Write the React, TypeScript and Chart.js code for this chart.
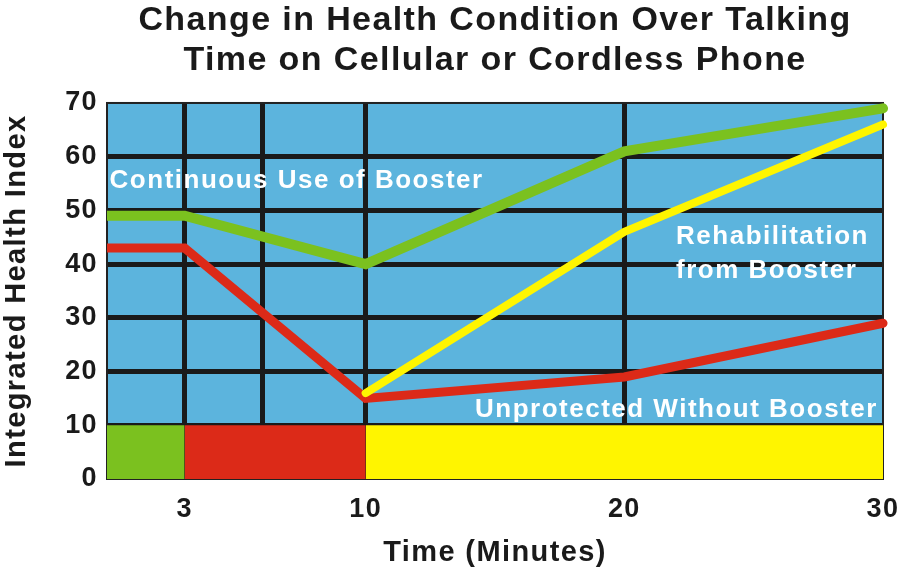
import React, { useEffect, useRef } from "react";
import { Chart, registerables } from "chart.js";

Chart.register(...registerables);

// ---------- data ----------
const titleLines = ["Change in Health Condition Over Talking", "Time on Cellular or Cordless Phone"];
const xAxisTitle = "Time (Minutes)";
const yAxisTitle = "Integrated Health Index";

const xTickLabels = [3, 10, 20, 30];
const xExtraGrid = [6];
const yMin = 0;
const yMax = 70;
const yStep = 10;

// Continuous use of booster (green)
const boosterX = [0, 3, 10, 20, 30];
const boosterY = [49, 49, 40, 61, 69];

// Rehabilitation from booster (yellow)
const rehabX = [10, 20, 30];
const rehabY = [16, 46, 66];

// Unprotected without booster (red)
const unprotectedX = [0, 3, 10, 20, 30];
const unprotectedY = [43, 43, 15, 19, 29];

// Phase bands along the bottom
const phaseStart = [0, 3, 10];
const phaseEnd = [3, 10, 30];
const phaseLevel = [10, 10, 10];

// Annotation texts (anchored in data space)
const noteTexts = ["Continuous Use of Booster", "Rehabilitation", "from Booster", "Unprotected Without Booster"];
const noteX = [0.1, 22, 22, 29.8];
const noteY = [55.6, 45, 38.8, 12.8];
const noteAlign = ["left", "left", "left", "right"];

// ---------- styles ----------
const FONT = "'Liberation Sans', Arial, Helvetica, sans-serif";
const BLUE = "#5CB4DD";
const GREEN = "#7BC11F";
const RED = "#DC2A18";
const YELLOW = "#FFF500";
const INK = "#1A1A1A";
const phaseColors = [GREEN, RED, YELLOW];

const SPACING = "1.4px";

const decorPlugin = {
  id: "decor",
  beforeLayout(chart: any) {
    chart.ctx.letterSpacing = SPACING;
  },
  beforeDraw(chart: any) {
    const { ctx, chartArea } = chart;
    ctx.letterSpacing = SPACING;
    ctx.save();
    ctx.fillStyle = BLUE;
    ctx.fillRect(chartArea.left, chartArea.top, chartArea.right - chartArea.left, chartArea.bottom - chartArea.top);
    ctx.restore();
  },
  beforeDatasetsDraw(chart: any) {
    const { ctx, chartArea } = chart;
    ctx.save();
    ctx.strokeStyle = "#222";
    ctx.lineWidth = 2;
    ctx.strokeRect(chartArea.left, chartArea.top, chartArea.right - chartArea.left, chartArea.bottom - chartArea.top);
    ctx.restore();
  },
  afterDatasetsDraw(chart: any) {
    const { ctx } = chart;
    const xs = chart.scales.x;
    const ys = chart.scales.y;
    ctx.save();
    ctx.letterSpacing = "1.5px";
    ctx.fillStyle = "#FFFFFF";
    ctx.font = `bold 26px ${FONT}`;
    ctx.textBaseline = "middle";
    noteTexts.forEach((t, i) => {
      ctx.textAlign = noteAlign[i] as CanvasTextAlign;
      ctx.fillText(t, xs.getPixelForValue(noteX[i]), ys.getPixelForValue(noteY[i]));
    });
    ctx.restore();
  },
};

export default function App() {
  const ref = useRef<HTMLCanvasElement | null>(null);

  useEffect(() => {
    document.body.style.margin = "0";
    const canvas = ref.current;
    if (!canvas) return;

    const lineDs = (label: string, xs: number[], ys: number[], color: string, width: number) => ({
      type: "line" as const,
      label,
      data: xs.map((x, i) => ({ x, y: ys[i] })),
      borderColor: color,
      borderWidth: width,
      pointRadius: 0,
      pointHoverRadius: 0,
      fill: false,
      tension: 0,
      borderJoinStyle: "miter" as const,
      borderCapStyle: "round" as const,
      clip: { left: 0, top: 6, right: 6, bottom: 0 },
    });

    const phaseDs = phaseStart.map((s, i) => ({
      type: "line" as const,
      label: "phase" + i,
      data: [
        { x: s, y: phaseLevel[i] },
        { x: phaseEnd[i], y: phaseLevel[i] },
      ],
      borderWidth: 0,
      borderColor: phaseColors[i],
      backgroundColor: phaseColors[i],
      pointRadius: 0,
      fill: "origin",
      tension: 0,
      clip: 0,
    }));

    const chart = new Chart(canvas, {
      type: "line",
      data: {
        datasets: [
          lineDs("Continuous Use of Booster", boosterX, boosterY, GREEN, 10),
          lineDs("Rehabilitation from Booster", rehabX, rehabY, YELLOW, 8),
          lineDs("Unprotected Without Booster", unprotectedX, unprotectedY, RED, 9),
          ...phaseDs,
        ] as any,
      },
      options: {
        animation: false,
        responsive: false,
        devicePixelRatio: 1,
        layout: { padding: { left: 0, right: 15, top: 0, bottom: 0 } },
        plugins: {
          legend: { display: false },
          tooltip: { enabled: false },
          title: {
            display: true,
            fullSize: false,
            text: titleLines,
            color: INK,
            font: { family: FONT, size: 34, weight: "bold", lineHeight: 1.16 },
            padding: { top: 1, bottom: 23.1 },
          },
        },
        scales: {
          x: {
            type: "linear",
            min: 0,
            max: 30,
            afterBuildTicks(scale: any) {
              scale.ticks = [...xExtraGrid, ...xTickLabels]
                .sort((a, b) => a - b)
                .map((v) => ({ value: v }));
            },
            afterFit(scale: any) {
              scale.height = 92;
              scale.paddingLeft = 0;
              scale.paddingRight = 0;
            },
            ticks: {
              autoSkip: false,
              maxRotation: 0,
              padding: 14,
              color: INK,
              font: { family: FONT, size: 27, weight: "bold" },
              callback: (v: any) => (xTickLabels.includes(Number(v)) ? String(v) : ""),
            },
            grid: {
              drawTicks: false,
              lineWidth: 5,
              color: (c: any) => (c.tick && c.tick.value > 0 && c.tick.value < 30 ? INK : "rgba(0,0,0,0)"),
            },
            border: { display: false },
            title: {
              display: true,
              text: xAxisTitle,
              color: INK,
              font: { family: FONT, size: 29, weight: "bold", lineHeight: 1.2 },
              padding: { top: 0, bottom: 1 },
            },
          },
          y: {
            type: "linear",
            min: yMin,
            max: yMax,
            ticks: {
              stepSize: yStep,
              padding: 9,
              color: INK,
              font: { family: FONT, size: 27, weight: "bold" },
            },
            afterFit(scale: any) {
              scale.width = 107;
              scale.paddingTop = 0;
              scale.paddingBottom = 0;
            },
            grid: {
              drawTicks: false,
              lineWidth: 5,
              color: (c: any) =>
                c.tick && c.tick.value > yMin && c.tick.value < yMax ? INK : "rgba(0,0,0,0)",
            },
            border: { display: false },
            title: {
              display: true,
              text: yAxisTitle,
              color: INK,
              font: { family: FONT, size: 29, weight: "bold", lineHeight: 1.2 },
              padding: { top: 0, bottom: 0 },
            },
          },
        },
      } as any,
      plugins: [decorPlugin],
    });

    return () => chart.destroy();
  }, []);

  return (
    <div style={{ width: 898, height: 571 }}>
      <canvas ref={ref} width={898} height={571} style={{ display: "block" }} />
    </div>
  );
}
